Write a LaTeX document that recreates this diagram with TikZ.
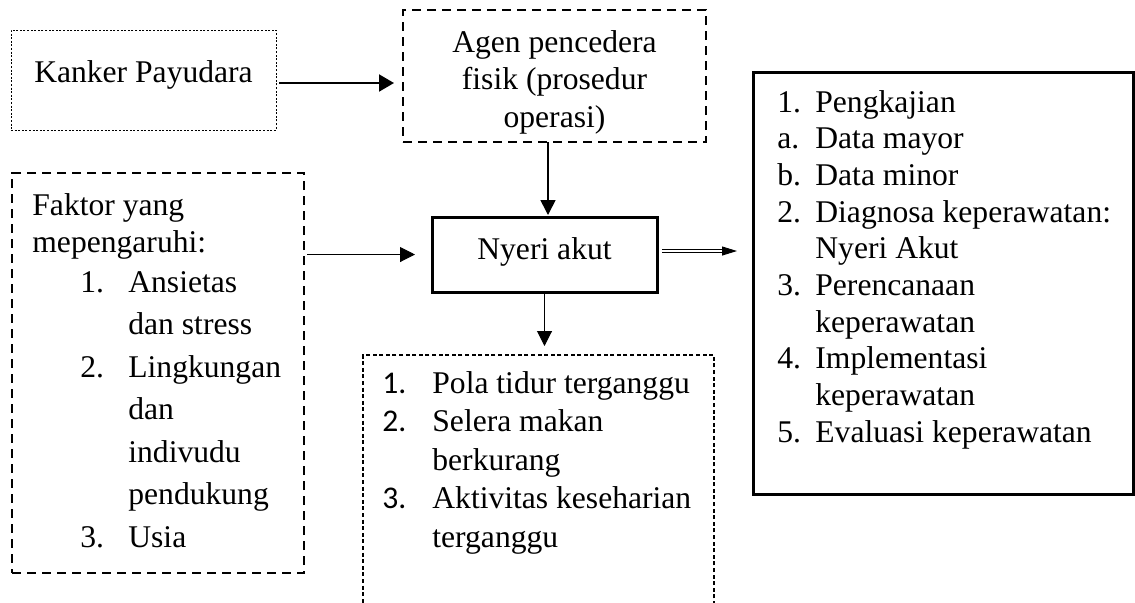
\documentclass[tikz,border=0pt]{standalone}
\usepackage{fontspec}
\setmainfont{Liberation Serif}
\newfontfamily\numfont{Carlito}
\usetikzlibrary{arrows.meta}
\newcommand{\fs}[1]{\fontsize{15.8}{#1}\selectfont}

\begin{document}
\begin{tikzpicture}[x=0.5pt, y=-0.5pt,
        every node/.style={font=\fs{18.35pt}},
        frame/.style 2 args={draw, minimum width=#1, minimum height=#2, inner sep=0pt, outer sep=0pt},
        txt/.style={inner sep=0pt, anchor=base west},
        dotline/.style={line width=0.5pt, dash pattern=on 1pt off 0.8pt},
        dashline/.style={line width=1.2pt, dash pattern=on 4.7pt off 2.8pt},
        thinline/.style={line width=0.6pt, dash pattern=on 2pt off 1.3pt},
        boldline/.style={line width=1.5pt},
        arr/.style={-{Triangle[length=7.5pt,width=7.5pt]}, line width=0.5pt},
        dbl/.style={double, double distance=0.8pt, line width=0.4pt}]
    \useasboundingbox (0,0) rectangle (1135,602);

    % boxes
    \node[frame={132.5pt}{50pt}, dotline] (kanker) at (143.5,80) {};
    \node[txt, anchor=base] (kanker-t) at (143.5,82) {Kanker Payudara};

    \node[frame={151.5pt}{66pt}, dashline] (agen) at (554.5,76) {};
    \node[txt, anchor=base] (agen-t) at (554.5,52) {\fs{18.75pt}\begin{tabular}[t]{@{}c@{}}Agen pencedera\\fisik (prosedur\\operasi)\end{tabular}};

    \node[frame={112.5pt}{37.5pt}, boldline] (nyeri) at (544.5,254.5) {};
    \node[txt, anchor=base] (nyeri-t) at (544.5,259) {Nyeri akut};

    \node[frame={146pt}{200pt}, dashline] (faktor) at (158,373) {};
    \node[txt] (faktor-t) at (32,215) {\fs{18.5pt}\begin{tabular}[t]{@{}l@{}}Faktor yang\\mepengaruhi:\end{tabular}};
    \node[txt] (faktor-l) at (80,292) {\fs{21.25pt}\begin{tabular}[t]{@{}p{24pt}@{}l@{}}
            1.&Ansietas\\ &dan stress\\
            2.&Lingkungan\\ &dan\\ &indivudu\\ &pendukung\\
            3.&Usia\end{tabular}};

    \node[frame={190pt}{211pt}, boldline] (kaji) at (943,283) {};
    \node[txt] (kaji-t) at (777,112) {\fs{18.35pt}\begin{tabular}[t]{@{}p{19pt}@{}l@{}}
            1.&Pengkajian\\
            a.&Data mayor\\
            b.&Data minor\\
            2.&Diagnosa keperawatan:\\ &Nyeri Akut\\
            3.&Perencanaan\\ &keperawatan\\
            4.&Implementasi\\ &keperawatan\\
            5.&Evaluasi keperawatan\end{tabular}};

    % runs on below the page
    \node[frame={175.5pt}{147.5pt}, thinline] (dampak) at (538.5,502.5) {};
    \node[txt] (dampak-t) at (382,393) {\fs{19.25pt}\begin{tabular}[t]{@{}p{25pt}@{}l@{}}
            {\numfont 1.}&Pola tidur terganggu\\
            {\numfont 2.}&Selera makan\\ &berkurang\\
            {\numfont 3.}&Aktivitas keseharian\\ &terganggu\end{tabular}};

    % arrows
    \draw[arr, -{Triangle[length=7.5pt,width=8.5pt]}, line width=1pt, shorten <=1.5pt, shorten >=4.5pt] ([yshift=-1.5pt]kanker.east) -- ([yshift=-1.5pt]kanker.east -| agen.west);
    \draw[arr, line width=0.8pt, shorten >=1pt] ([xshift=-3.25pt]agen.south) -- ([xshift=-3.25pt]agen.south |- nyeri.north);
    \draw[arr, shorten <=1.5pt, shorten >=8.5pt] (faktor.east |- nyeri.west) -- (nyeri.west);
    \draw[arr, shorten >=4.5pt] (nyeri.south) -- (nyeri.south |- dampak.north);
    \draw[arr, -{Triangle[length=7.5pt,width=4.5pt]}, shorten <=20pt, shorten >=8pt] ([yshift=1.75pt]nyeri.east) -- ([yshift=1.75pt]nyeri.east -| kaji.west);
    \draw[dbl, shorten <=2.5pt, shorten >=15.5pt] ([yshift=1.75pt]nyeri.east) -- ([yshift=1.75pt]nyeri.east -| kaji.west);
\end{tikzpicture}
\end{document}
